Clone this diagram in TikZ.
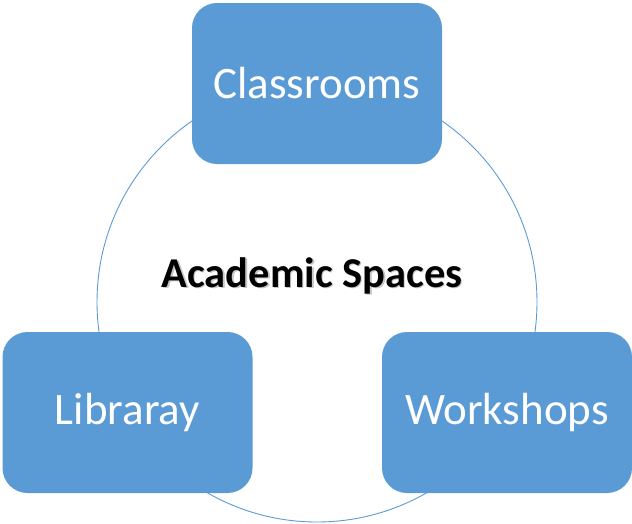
\documentclass[tikz,border=0pt]{standalone}
\usepackage{fontspec}
\setmainfont{Carlito}
\definecolor{boxblue}{HTML}{5B9BD5}
\begin{document}
\begin{tikzpicture}[x=1pt,y=-1pt,
  spacebox/.style={rectangle, rounded corners=25pt, fill=boxblue, draw=none,
    minimum width=250pt, minimum height=161pt, inner sep=0pt,
    text=white, font=\fontsize{45}{50}\selectfont},
  ringstyle/.style={circle, draw=boxblue, line width=0.9pt, minimum size=440pt, inner sep=0pt},
  titlestyle/.style={font=\fontsize{42.5}{46}\selectfont\bfseries, inner sep=0pt, anchor=base}]
\useasboundingbox (0,0) rectangle (632,523);
\node[ringstyle] (ring) at (317,302) {};
\node[spacebox] (classrooms) at (317,83.5) {Classrooms};
\node[spacebox] (library) at (127.5,412.5) {Libraray};
\node[spacebox] (workshops) at (507,412.5) {Workshops};
\node[titlestyle, text=black!40, opacity=0.55] (titleshadow) at (313.5,288.5) {Academic Spaces};
\node[titlestyle, text=black] (title) at (312,287) {Academic Spaces};
\end{tikzpicture}
\end{document}
